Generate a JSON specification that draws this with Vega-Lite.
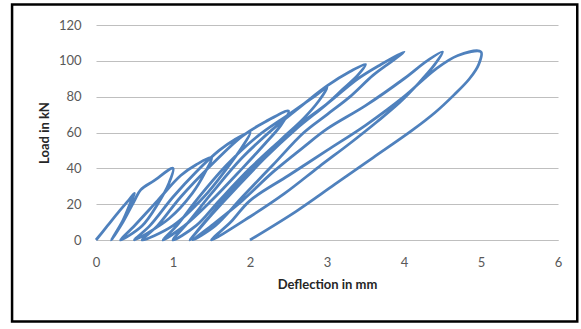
{
  "$schema": "https://vega.github.io/schema/vega-lite/v6.json",
  "width": 462,
  "height": 215,
  "autosize": {"type": "none"},
  "padding": {"left": 96, "top": 25, "right": 23, "bottom": 89},
  "background": "white",
  "config": {
    "view": {"stroke": null},
    "font": "Lato",
    "axis": {"labelFont": "Lato", "titleFont": "Lato", "labelFontSize": 13, "titleFontSize": 13, "labelColor": "#595959", "titleColor": "#262626", "titleFontWeight": "bold", "ticks": false, "labelOverlap": false, "labelFlush": false}
  },
  "encoding": {
    "x": {"type": "quantitative", "scale": {"domain": [0, 6], "nice": false}, "axis": {"title": "Deflection in mm", "values": [0,1,2,3,4,5,6], "format": "d", "grid": false, "domain": true, "domainColor": "#bfbfbf", "labelPadding": 16, "titlePadding": 9}},
    "y": {"type": "quantitative", "scale": {"domain": [0, 120], "nice": false}, "axis": {"title": "Load in kN", "values": [0,20,40,60,80,100,120], "format": "d", "grid": true, "gridColor": "#bfbfbf", "domain": false, "labelPadding": 15, "titlePadding": 7}}
  },
  "layer": [
    {
      "data": {"values": [{"x0": -1.09, "x1": 6.25, "y0": -45.5, "y1": 131.5}]},
      "mark": {"type": "rect", "fill": null, "stroke": "#000000", "strokeWidth": 2.5},
      "encoding": {
        "x": {"field": "x0", "type": "quantitative"},
        "x2": {"field": "x1"},
        "y": {"field": "y0", "type": "quantitative"},
        "y2": {"field": "y1"}
      }
    },
    {
      "data": {"values": [
        {"i":1,"x":0,"y":0},{"i":2,"x":0.15,"y":8},{"i":3,"x":0.3,"y":16},{"i":4,"x":0.42,"y":22},{"i":5,"x":0.5,"y":26},
        {"i":6,"x":0.45,"y":21},{"i":7,"x":0.35,"y":11},{"i":8,"x":0.2,"y":0},
        {"i":9,"x":0.35,"y":10},{"i":10,"x":0.5,"y":22},{"i":11,"x":0.58,"y":28},{"i":12,"x":0.75,"y":33},{"i":13,"x":1.0,"y":40},
        {"i":14,"x":0.95,"y":32},{"i":15,"x":0.8,"y":20},{"i":16,"x":0.6,"y":8},{"i":17,"x":0.32,"y":0},
        {"i":18,"x":0.5,"y":8},{"i":19,"x":0.8,"y":22},{"i":20,"x":1.1,"y":36},{"i":21,"x":1.3,"y":42},{"i":22,"x":1.5,"y":46},
        {"i":23,"x":1.42,"y":38},{"i":24,"x":1.25,"y":26},{"i":25,"x":0.95,"y":12},{"i":26,"x":0.5,"y":0},
        {"i":27,"x":0.7,"y":8},{"i":28,"x":1.0,"y":24},{"i":29,"x":1.3,"y":38},{"i":30,"x":1.6,"y":50},{"i":31,"x":1.8,"y":56},{"i":32,"x":2.0,"y":60},
        {"i":33,"x":1.9,"y":52},{"i":34,"x":1.7,"y":40},{"i":35,"x":1.4,"y":24},{"i":36,"x":1.0,"y":8},{"i":37,"x":0.6,"y":0},
        {"i":38,"x":0.8,"y":8},{"i":39,"x":1.1,"y":24},{"i":40,"x":1.5,"y":42},{"i":41,"x":1.9,"y":58},{"i":42,"x":2.2,"y":66},{"i":43,"x":2.5,"y":72},
        {"i":44,"x":2.4,"y":64},{"i":45,"x":2.2,"y":54},{"i":46,"x":1.9,"y":40},{"i":47,"x":1.5,"y":22},{"i":48,"x":1.15,"y":8},{"i":49,"x":0.87,"y":0},
        {"i":50,"x":1.05,"y":8},{"i":51,"x":1.3,"y":22},{"i":52,"x":1.7,"y":42},{"i":53,"x":2.1,"y":58},{"i":54,"x":2.5,"y":70},{"i":55,"x":2.8,"y":79},{"i":56,"x":3.0,"y":85},
        {"i":57,"x":2.9,"y":78},{"i":58,"x":2.7,"y":68},{"i":59,"x":2.4,"y":56},{"i":60,"x":2.0,"y":40},{"i":61,"x":1.6,"y":22},{"i":62,"x":1.3,"y":8},{"i":63,"x":1.0,"y":0},
        {"i":64,"x":1.2,"y":10},{"i":65,"x":1.5,"y":26},{"i":66,"x":1.9,"y":46},{"i":67,"x":2.3,"y":62},{"i":68,"x":2.7,"y":76},{"i":69,"x":3.0,"y":86},{"i":70,"x":3.3,"y":94},{"i":71,"x":3.5,"y":98},
        {"i":72,"x":3.4,"y":92},{"i":73,"x":3.2,"y":84},{"i":74,"x":3.0,"y":76},{"i":75,"x":2.6,"y":62},{"i":76,"x":2.2,"y":46},{"i":77,"x":1.8,"y":28},{"i":78,"x":1.5,"y":14},{"i":79,"x":1.22,"y":0},
        {"i":80,"x":1.45,"y":12},{"i":81,"x":1.8,"y":30},{"i":82,"x":2.2,"y":48},{"i":83,"x":2.6,"y":63},{"i":84,"x":3.0,"y":76},{"i":85,"x":3.4,"y":90},{"i":86,"x":3.7,"y":98},{"i":87,"x":4.0,"y":105},
        {"i":88,"x":3.85,"y":100},{"i":89,"x":3.6,"y":92},{"i":90,"x":3.3,"y":80},{"i":91,"x":3.0,"y":70},{"i":92,"x":2.7,"y":60},{"i":93,"x":2.3,"y":42},{"i":94,"x":1.9,"y":24},{"i":95,"x":1.55,"y":8},{"i":96,"x":1.26,"y":0},
        {"i":97,"x":1.5,"y":8},{"i":98,"x":1.9,"y":22},{"i":99,"x":2.3,"y":38},{"i":100,"x":2.7,"y":52},{"i":101,"x":3.0,"y":62},{"i":102,"x":3.5,"y":75},{"i":103,"x":4.0,"y":90},{"i":104,"x":4.3,"y":100},{"i":105,"x":4.5,"y":105},
        {"i":106,"x":4.4,"y":98},{"i":107,"x":4.2,"y":88},{"i":108,"x":3.95,"y":77},{"i":109,"x":3.65,"y":66},{"i":110,"x":3.3,"y":54},{"i":111,"x":2.9,"y":41},{"i":112,"x":2.45,"y":26},{"i":113,"x":2.0,"y":13},{"i":114,"x":1.5,"y":0},
        {"i":115,"x":1.75,"y":10},{"i":116,"x":2.0,"y":22},{"i":117,"x":2.5,"y":36},{"i":118,"x":3.0,"y":50},{"i":119,"x":3.5,"y":64},{"i":120,"x":4.0,"y":80},{"i":121,"x":4.4,"y":95},{"i":122,"x":4.7,"y":103},{"i":123,"x":5.0,"y":105},
        {"i":124,"x":4.97,"y":98},{"i":125,"x":4.85,"y":90},{"i":126,"x":4.65,"y":81},{"i":127,"x":4.4,"y":71},{"i":128,"x":4.1,"y":61},{"i":129,"x":3.6,"y":46},{"i":130,"x":3.1,"y":31},{"i":131,"x":2.6,"y":16},{"i":132,"x":2.0,"y":0}
      ]},
      "mark": {"type": "line", "interpolate": "catmull-rom", "color": "#4f81bd", "strokeWidth": 2.8},
      "encoding": {
        "x": {"field": "x", "type": "quantitative"},
        "y": {"field": "y", "type": "quantitative"},
        "order": {"field": "i", "type": "quantitative"}
      }
    }
  ]
}
